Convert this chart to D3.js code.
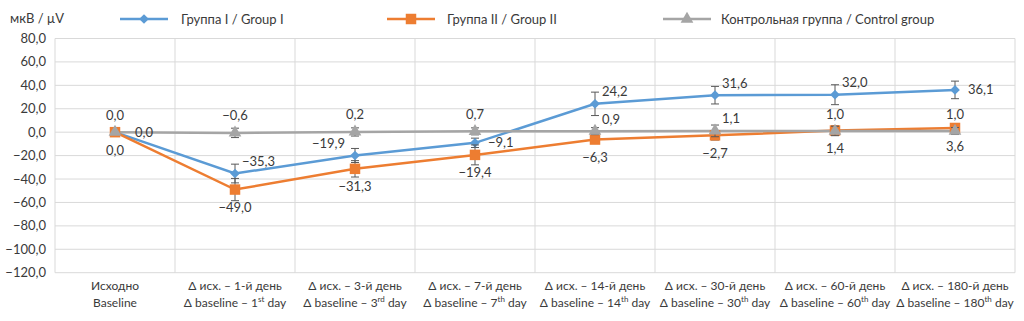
<!DOCTYPE html>
<html>
  <head>
    <meta charset="UTF-8" />
    <style>
      body { margin: 0; background: #fff; }
      text { font-family: Lato, 'Open Sans', sans-serif; fill: #3a3a3a; }
    </style>
  </head>
  <body>
    <svg></svg>
    <script src="https://d3js.org/d3.v7.min.js"></script>
    <script>
      // data
      let labelsRu = ['Исходно', 'Δ исх. – 1-й день', 'Δ исх. – 3-й день', 'Δ исх. – 7-й день',
        'Δ исх. – 14-й день', 'Δ исх. – 30-й день', 'Δ исх. – 60-й день', 'Δ исх. – 180-й день']
      let dayNums = ['', '1', '3', '7', '14', '30', '60', '180']
      let daySuffix = ['', 'st', 'rd', 'th', 'th', 'th', 'th', 'th']

      let group1 = [0, -35.3, -19.9, -9.1, 24.2, 31.6, 32.0, 36.1]
      let group1Err = [0, 8, 6, 4, 10, 7.5, 8.5, 7.5]
      let group2 = [0, -49.0, -31.3, -19.4, -6.3, -2.7, 1.4, 3.6]
      let group2Err = [0, 9.5, 7, 8.5, 3, 4, 4, 3]
      let control = [0, -0.6, 0.2, 0.7, 0.9, 1.1, 1.0, 1.0]
      let controlErr = [0, 4, 3.5, 3, 3, 5, 4, 3]

      let yTicks = [80, 60, 40, 20, 0, -20, -40, -60, -80, -100, -120]

      // where each value label sits
      let group1Pos = ['farRight', 'aboveRight', 'aboveLeft', 'right', 'aboveRight', 'aboveRight', 'aboveRight', 'right']
      let group2Pos = ['below', 'below', 'below', 'below', 'below', 'below', 'below', 'below']
      let controlPos = ['above', 'above', 'above', 'above', 'aboveRight', 'aboveRight', 'above', 'above']

      let width = 1024, height = 321
      let svg = d3.select('svg').attr('width', width).attr('height', height)

      let x = d3.scaleBand().domain(d3.range(labelsRu.length)).range([55, 1015]).padding(0)
      let y = d3.scaleLinear().domain([-120, 80]).range([272.7, 38.5])
      let fmt = (v) => d3.format('.1f')(v).replace('.', ',').replace('-', '−')
      let cx = (i) => x(i) + x.bandwidth() / 2

      // grid
      let grid = svg.append('g')
      grid.selectAll('line.h').data(yTicks).enter().append('line')
        .attr('x1', 55).attr('x2', 1015)
        .attr('y1', (d) => y(d)).attr('y2', (d) => y(d))
        .attr('stroke', '#d9d9d9').attr('stroke-width', 1)
      grid.selectAll('line.v').data(d3.range(labelsRu.length + 1)).enter().append('line')
        .attr('x1', (d) => 55 + d * x.bandwidth()).attr('x2', (d) => 55 + d * x.bandwidth())
        .attr('y1', y(80)).attr('y2', y(-120))
        .attr('stroke', '#d9d9d9').attr('stroke-width', 1)

      // y tick labels
      svg.append('g').selectAll('text').data(yTicks).enter().append('text')
        .attr('x', 46).attr('y', (d) => y(d)).attr('dy', '0.35em')
        .attr('text-anchor', 'end').style('font-size', '13px')
        .text((d) => fmt(d))

      svg.append('text').attr('x', 10).attr('y', 23).style('font-size', '13px').text('мкВ / µV')

      // x labels
      let xl = svg.append('g').selectAll('g').data(labelsRu).enter().append('g')
        .attr('transform', (d, i) => 'translate(' + cx(i) + ',0)')
      xl.append('text').attr('y', 290).attr('text-anchor', 'middle').style('font-size', '12px').text((d) => d)
      xl.append('text').attr('y', 307).attr('text-anchor', 'middle').style('font-size', '12px')
        .each(function (d, i) {
          let t = d3.select(this)
          if (i == 0) { t.text('Baseline'); return }
          t.append('tspan').text('Δ baseline – ' + dayNums[i])
          t.append('tspan').attr('dy', -5).style('font-size', '8px').text(daySuffix[i])
          t.append('tspan').attr('dy', 5).text(' day')
        })

      let series = [
        { name: 'Группа I / Group I', values: group1, err: group1Err, pos: group1Pos, color: '#5b9bd5', shape: d3.symbolDiamond2, size: 60 },
        { name: 'Группа II / Group II', values: group2, err: group2Err, pos: group2Pos, color: '#ed7d31', shape: d3.symbolSquare, size: 110 },
        { name: 'Контрольная группа / Control group', values: control, err: controlErr, pos: controlPos, color: '#a5a5a5', shape: d3.symbolTriangle, size: 70 },
      ]

      let line = d3.line().x((d, i) => cx(i)).y((d) => y(d))

      // lines
      series.forEach((s) => {
        svg.append('path').datum(s.values).attr('d', line)
          .attr('fill', 'none').attr('stroke', s.color).attr('stroke-width', 2.5)
      })

      // error bars and markers
      series.forEach((s) => {
        let g = svg.append('g')
        s.values.forEach((v, i) => {
          if (!s.err[i]) return
          let px = cx(i), t = y(v + s.err[i]), b = y(v - s.err[i])
          g.append('line').attr('x1', px).attr('x2', px).attr('y1', t).attr('y2', b)
            .attr('stroke', '#595959').attr('stroke-width', 1)
          g.append('line').attr('x1', px - 4).attr('x2', px + 4).attr('y1', t).attr('y2', t)
            .attr('stroke', '#595959').attr('stroke-width', 1)
          g.append('line').attr('x1', px - 4).attr('x2', px + 4).attr('y1', b).attr('y2', b)
            .attr('stroke', '#595959').attr('stroke-width', 1)
        })
        g.selectAll('path').data(s.values).enter().append('path')
          .attr('d', d3.symbol().type(s.shape).size(s.size))
          .attr('transform', (d, i) => 'translate(' + cx(i) + ',' + y(d) + ')')
          .attr('fill', s.color)
      })

      // value labels
      let place = {
        above: { dx: 0, dy: -17, anchor: 'middle' },
        below: { dx: 0, dy: 18, anchor: 'middle' },
        right: { dx: 13, dy: 0, anchor: 'start' },
        farRight: { dx: 20, dy: 0, anchor: 'start' },
        aboveRight: { dx: 7, dy: -12, anchor: 'start' },
        aboveLeft: { dx: -10, dy: -12, anchor: 'end' },
      }
      series.forEach((s) => {
        svg.append('g').selectAll('text').data(s.values).enter().append('text')
          .attr('x', (d, i) => cx(i) + place[s.pos[i]].dx)
          .attr('y', (d, i) => y(d) + place[s.pos[i]].dy)
          .attr('dy', '0.35em')
          .attr('text-anchor', (d, i) => place[s.pos[i]].anchor)
          .style('font-size', '13px')
          .text((d) => fmt(d))
      })

      // legend
      let legX = [120, 387, 663]
      let leg = svg.append('g').selectAll('g').data(series).enter().append('g')
        .attr('transform', (d, i) => 'translate(' + legX[i] + ',19)')
      leg.append('line').attr('x1', 0).attr('x2', 48)
        .attr('stroke', (d) => d.color).attr('stroke-width', 2.5)
      leg.append('path').attr('d', (d) => d3.symbol().type(d.shape).size(d.size)())
        .attr('transform', 'translate(24,0)').attr('fill', (d) => d.color)
      leg.append('text').attr('x', (d, i) => [61, 60, 58][i]).attr('dy', '0.35em')
        .style('font-size', '13px').text((d) => d.name)
    </script>
  </body>
</html>
